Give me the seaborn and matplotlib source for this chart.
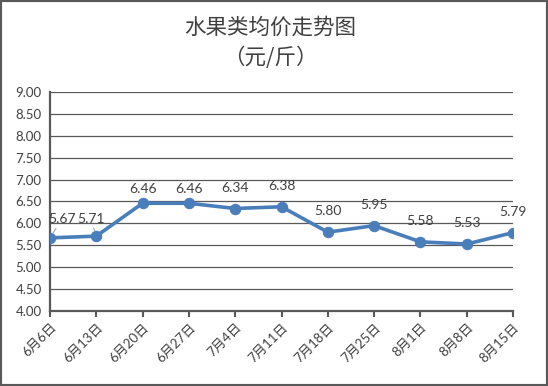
import numpy as np
import pandas as pd
import matplotlib
matplotlib.use("Agg")
import matplotlib.pyplot as plt
import seaborn as sns
from matplotlib.patches import Rectangle

# data
dates = ["6月6日", "6月13日", "6月20日", "6月27日", "7月4日", "7月11日",
         "7月18日", "7月25日", "8月1日", "8月8日", "8月15日"]
prices = [5.67, 5.71, 6.46, 6.46, 6.34, 6.38, 5.80, 5.95, 5.58, 5.53, 5.79]
y_ticks = [4.0, 4.5, 5.0, 5.5, 6.0, 6.5, 7.0, 7.5, 8.0, 8.5, 9.0]

df = pd.DataFrame({"pos": np.arange(len(dates)), "price": prices})

sns.set_theme(style="white")
plt.rcParams["font.family"] = ["Lato", "Noto Sans CJK SC", "DejaVu Sans"]

text_color = "#404040"
line_color = "#4a7ebb"
grid_color = "#595959"

fig = plt.figure(figsize=(5.48, 3.86), dpi=100)
ax = fig.add_axes([0.0912, 0.194, 0.845, 0.568])

sns.lineplot(data=df, x="pos", y="price", ax=ax, color=line_color,
             linewidth=2.6, marker="o", markersize=7.5,
             markeredgecolor=line_color, zorder=3)

ax.set_xlim(0, len(dates) - 1)
ax.set_ylim(4.0, 9.0)
ax.set_yticks(y_ticks)
ax.set_yticklabels([f"{v:.2f}" for v in y_ticks], fontsize=9.5, color=text_color)
ax.set_xticks(df["pos"])
ax.set_xticklabels(dates, rotation=45, ha="right", rotation_mode="anchor",
                   fontsize=9.5, color=text_color)
ax.tick_params(axis="x", length=4, width=1.5, color=grid_color, pad=3, bottom=True)
ax.tick_params(axis="y", length=0, pad=6)
ax.set_xlabel("")
ax.set_ylabel("")

# horizontal gridlines
ax.yaxis.grid(True, color=grid_color, linewidth=0.9)
ax.xaxis.grid(False)
ax.set_axisbelow(True)
for side in ["top", "right"]:
    ax.spines[side].set_visible(False)
for side in ["left", "bottom"]:
    ax.spines[side].set_color(grid_color)
    ax.spines[side].set_linewidth(1.6)

# data labels (first two pushed apart with leader lines)
offsets = {0: (8.5, 13.5), 1: (-4, 12.5), 2: (0, 10), 3: (0, 10)}
for i, v in enumerate(prices):
    dx, dy = offsets.get(i, (0, 15))
    arrow = None
    if i < 2:
        arrow = dict(arrowstyle="-", color="#a6a6a6", lw=0.8, shrinkA=0, shrinkB=4)
    ax.annotate(f"{v:.2f}", (i, v), xytext=(dx, dy), textcoords="offset points",
                ha="center", va="center", fontsize=10, color=text_color,
                arrowprops=arrow, annotation_clip=False)

fig.text(0.493, 0.928, "水果类均价走势图", ha="center", va="center",
         fontsize=15.5, color=text_color, family=["Noto Sans CJK SC"])
fig.text(0.493, 0.851, "（元/斤）", ha="center", va="center",
         fontsize=15.5, color=text_color, family=["Noto Sans CJK SC"])

# chart border
fig.patches.append(Rectangle((0, 0), 1, 1, transform=fig.transFigure,
                             fill=False, edgecolor="#595959", linewidth=3))

fig.savefig("out.png", dpi=100)
